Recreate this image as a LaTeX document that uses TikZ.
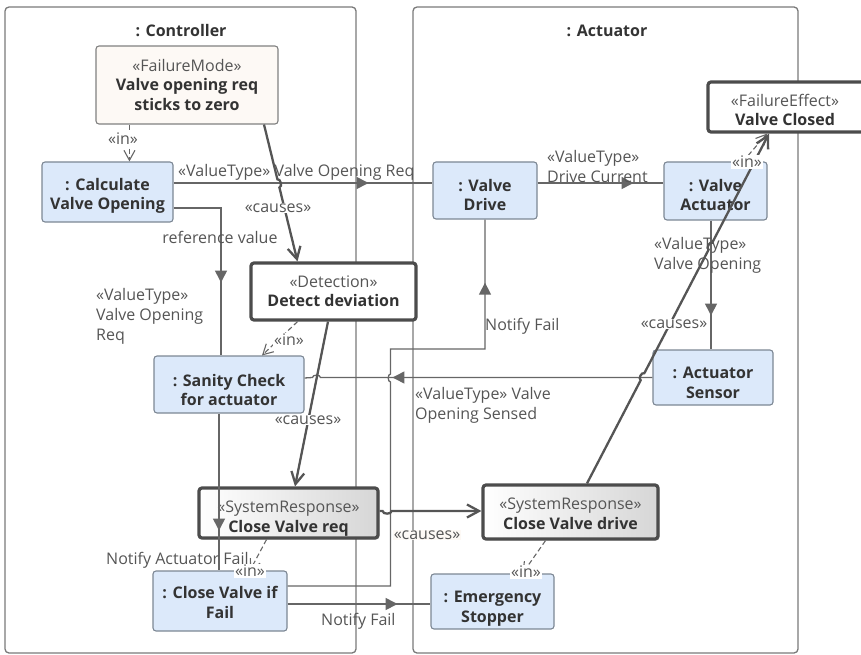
\documentclass[tikz,border=0pt]{standalone}
\usepackage{fontspec}
\setmainfont{Open Sans}
\usetikzlibrary{arrows.meta,calc,decorations.markings,shadows}

\definecolor{lineg}{HTML}{666666}
\definecolor{causeg}{HTML}{555555}
\definecolor{frameg}{HTML}{7A7A7A}
\definecolor{boxblue}{HTML}{DCE9FA}
\definecolor{boxedge}{HTML}{7C8794}
\definecolor{fmfill}{HTML}{FDF9F5}
\definecolor{txtdark}{HTML}{333333}
\definecolor{txtgray}{HTML}{555555}

\newcommand\sterotxt[1]{{\mdseries\color{txtgray}#1}}

\tikzset{
  basefont/.style={font=\fontsize{16}{20}\selectfont},
  frame/.style={draw=frameg, line width=1.3pt, rounded corners=4pt},
  title/.style={font=\fontsize{16}{20}\selectfont\bfseries, text=txtdark},
  partbox/.style={draw=boxedge, fill=boxblue, line width=1.1pt, rounded corners=3pt,
    align=center, inner sep=0pt, text=txtdark, font=\fontsize{16}{19.5}\selectfont\bfseries},
  % vertical placement of two-line texts inside a box
  textsink/.style={text height=#1, text depth=4pt},
  fmbox/.style={partbox, fill=fmfill, draw=black!50},
  thickbox/.style={partbox, draw=black!70, fill=white, line width=3.2pt},
  respbox/.style={thickbox, left color=white, right color=black!16,
    drop shadow={shadow xshift=1.5pt, shadow yshift=-1.5pt, fill=black, opacity=0.18}},
  flow/.style={draw=lineg, line width=1.3pt},
  arrowat/.style={postaction={decorate}, decoration={markings,
    mark=at position #1 with {\arrow[lineg]{Triangle[length=12pt,width=12pt]}}}},
  causes/.style={draw=causeg, line width=2.3pt, -{Straight Barb[length=12pt,width=13pt]}},
  depin/.style={draw=lineg, line width=1.1pt, dash pattern=on 5pt off 3pt,
    -{Straight Barb[length=10pt,width=11pt]}},
  lbl/.style={basefont, text=txtgray, inner sep=1pt},
  lblw/.style={lbl, fill=white},
}

\begin{document}
\begin{tikzpicture}[x=1pt, y=-1pt]
\useasboundingbox (0,0) rectangle (861,655);

% part frames
\node[frame, minimum width=351pt, minimum height=646pt] (ctrl) at (180.5,330) {};
\node[frame, minimum width=385pt, minimum height=646pt] (act) at (605.5,330) {};
\node[title] (ctitle) at (181,31) {: Controller};
\node[title] (atitle) at (607,31) {: Actuator};

% Controller parts
\node[fmbox, minimum width=182pt, minimum height=78pt] (fm) at (187,85)
  {\sterotxt{«FailureMode»}\\Valve opening req\\sticks to zero};
\node[partbox, textsink=39.9pt, minimum width=131pt, minimum height=60pt] (calc) at (107.5,192)
  {: Calculate\\Valve Opening};
\node[thickbox, textsink=34.9pt, minimum width=165pt, minimum height=57pt] (det) at (333.5,291.5)
  {\sterotxt{«Detection»}\\Detect deviation};
\node[partbox, textsink=46.9pt, minimum width=150pt, minimum height=57pt] (sanity) at (229,384.5)
  {: Sanity Check\\for actuator};
\node[respbox, textsink=42.9pt, minimum width=179pt, minimum height=50pt] (cvr) at (288.5,513)
  {\sterotxt{«SystemResponse»}\\Close Valve req};
\node[partbox, textsink=38.9pt, minimum width=134pt, minimum height=60pt] (cvf) at (220,601)
  {: Close Valve if\\Fail};

% Actuator parts
\node[partbox, textsink=44.9pt, minimum width=104pt, minimum height=57pt] (drive) at (485,190.5)
  {: Valve\\Drive};
\node[partbox, textsink=43.9pt, minimum width=103pt, minimum height=58pt] (vact) at (715.5,191)
  {: Valve\\Actuator};
\node[thickbox, minimum width=166pt, minimum height=50pt,
  label={[align=center, text=txtdark, xshift=-6pt, textsink=41.9pt, inner sep=0pt,
    font=\fontsize{16}{19.5}\selectfont\bfseries]center:\sterotxt{«FailureEffect»}\\Valve Closed}]
  (fe) at (791,107) {};
\node[partbox, textsink=45.9pt, minimum width=120pt, minimum height=55pt] (sensor) at (713,377.5)
  {: Actuator\\Sensor};
\node[respbox, textsink=38.9pt, minimum width=175pt, minimum height=54pt] (cvd) at (570.5,512)
  {\sterotxt{«SystemResponse»}\\Close Valve drive};
\node[partbox, textsink=45.9pt, minimum width=123pt, minimum height=55pt] (es) at (492.5,601.5)
  {: Emergency\\Stopper};

% connector end points
\coordinate (fmout)  at ([xshift=77pt]fm.south);
\coordinate (detin)  at ([xshift=-36pt]det.north);
\coordinate (cvdout) at ([xshift=16.5pt]cvd.north);
\coordinate (fein)   at ([xshift=-22pt]fe.south);

% item flows
\draw[flow, arrowat=195pt] ([yshift=9pt]calc.east) -- ([yshift=7.5pt]drive.west);
\draw[flow, arrowat=96pt] ([yshift=7.5pt]drive.east) -- ([yshift=8pt]vact.west);
\draw[flow, arrowat=95pt] ([xshift=-4.5pt]vact.south) -- ([xshift=-2pt]sensor.north);
\draw[flow, arrowat=260pt] (sensor.west) -- ++(-332,0) to[bend right=90] ++(-8,0)
  -- ([yshift=6.5pt]sanity.east);
\draw[flow, arrowat=122pt] ([yshift=-16pt]calc.east) -| ([xshift=-8pt]sanity.north);
\draw[flow, arrowat=117pt] ([xshift=-10pt]sanity.south) -- ([xshift=-1pt]cvf.north);
\draw[flow, arrowat=503pt] ([yshift=15pt]cvf.east) -- ++(103,0) -- ++(0,-204)
  to[bend left=90] ++(0,-8) -- ++(0,-25) -| (drive.south);
\draw[flow, arrowat=110pt] ([yshift=-3pt]cvf.east) -- ([yshift=-2.5pt]es.west);

% allocations
\draw[depin] ([xshift=34pt]fm.south west) -- ([xshift=88pt]calc.north west);
\draw[depin] ([xshift=-36pt]det.south) -- ([xshift=33pt]sanity.north);
\draw[depin] ([xshift=-22pt]cvr.south) -- ([xshift=30pt]cvf.north);
\draw[depin] ([xshift=-25pt]cvd.south) -- ([xshift=30pt]es.north);
\draw[depin] ([xshift=27.5pt]vact.north) -- ([xshift=-24pt]fe.south);

% cause chains
\draw[causes] (fmout) -- ($(fmout)!0.40!(detin)$) to[bend left=90] ($(fmout)!0.46!(detin)$) -- (detin);
\draw[causes] ([xshift=-5.5pt]det.south) -- ([xshift=6.5pt]cvr.north);
\draw[causes] ([yshift=2pt]cvr.east) -- ++(3,0) to[bend right=90] ++(9,0) -- ([yshift=1pt]cvd.west);
\draw[causes] (cvdout) -- ($(cvdout)!0.295!(fein)$) to[bend left=90] ($(cvdout)!0.315!(fein)$)
  -- ($(cvdout)!0.668!(fein)$) to[bend left=90] ($(cvdout)!0.688!(fein)$) -- (fein);

% labels
\node[lbl, anchor=west] (lvor) at (177,172) {«ValueType» Valve Opening Req};
\node[lblw] (lcause1) at (278,208) {«causes»};
\node[lbl] (lref) at (220,237) {reference value};
\node[lbl, anchor=north west, align=left] (lvor2) at (95,287) {«ValueType»\\Valve Opening\\Req};
\node[lbl, anchor=north west, align=left] (ldc) at (546,149) {«ValueType»\\Drive Current};
\node[lbl, anchor=north west, align=left] (lvo) at (653,236) {«ValueType»\\Valve Opening};
\node[lblw] (lcause4) at (674,324) {«causes»};
\node[lbl, anchor=west] (lnf1) at (484,326) {Notify Fail};
\node[lbl, anchor=north west, align=left] (lvos) at (414,386) {«ValueType» Valve\\Opening Sensed};
\node[lblw] (lcause2) at (308,420) {«causes»};
\node[lbl, fill=fmfill] (lcause3) at (427,535) {«causes»};
\node[lbl, anchor=west] (lnaf) at (105,560) {Notify Actuator Fail};
\node[lbl, anchor=west] (lnf2) at (320,621) {Notify Fail};
\node[lblw] (lin1) at (123,139) {«in»};
\node[lblw] (lin2) at (289,340) {«in»};
\node[lblw] (lin3) at (250,571) {«in»};
\node[lblw] (lin4) at (526,572) {«in»};
\node[lblw] (lin5) at (747,162) {«in»};
\end{tikzpicture}
\end{document}
